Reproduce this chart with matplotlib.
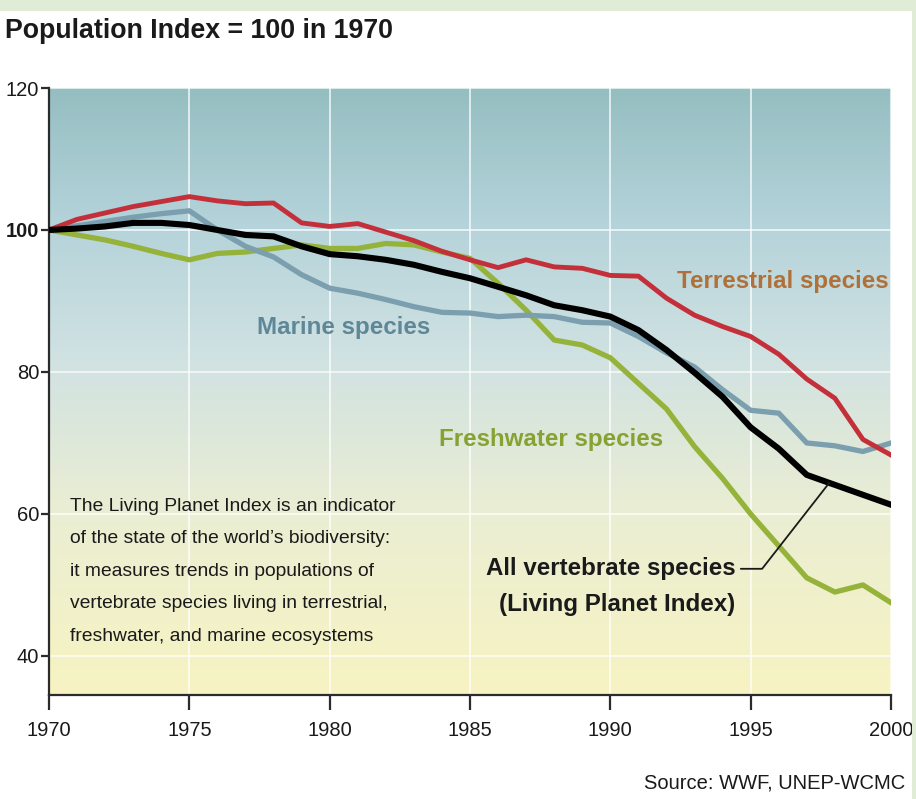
import numpy as np
import matplotlib
matplotlib.use("Agg")
import matplotlib.pyplot as plt
from matplotlib.colors import LinearSegmentedColormap

# --- data (index, 1970 = 100) ---------------------------------------------
years = list(range(1970, 2001))
terrestrial = [100, 101.5, 102.4, 103.3, 104, 104.7, 104.1, 103.7, 103.8, 101, 100.5,
               100.9, 99.7, 98.5, 97, 95.8, 94.7, 95.8, 94.8, 94.6, 93.6,
               93.5, 90.4, 88, 86.4, 85, 82.5, 79, 76.3, 70.5, 68.3]
marine = [100, 100.6, 101.2, 101.8, 102.3, 102.7, 100, 97.7, 96.2, 93.7, 91.8,
          91.1, 90.2, 89.2, 88.4, 88.3, 87.8, 88, 87.8, 87, 86.9,
          85, 82.7, 80.7, 77.5, 74.6, 74.2, 70, 69.6, 68.8, 70]
freshwater = [100, 99.3, 98.6, 97.7, 96.7, 95.8, 96.7, 96.9, 97.4, 97.9, 97.4,
              97.4, 98.1, 97.9, 96.9, 96, 92.5, 88.7, 84.5, 83.8, 82,
              78.4, 74.8, 69.5, 65, 60, 55.5, 51, 49, 50, 47.5]
all_species = [100, 100.2, 100.5, 101, 101, 100.7, 100, 99.3, 99.1, 97.7, 96.6,
               96.3, 95.8, 95.1, 94.1, 93.2, 92, 90.8, 89.4, 88.7, 87.8,
               85.9, 83.1, 79.9, 76.5, 72.2, 69.2, 65.5, 64.1, 62.7, 61.3]

x_ticks = [1970, 1975, 1980, 1985, 1990, 1995, 2000]
y_ticks = [40, 60, 80, 100, 120]

# --- style -------------------------------------------------------------
NARROW = ["Liberation Sans Narrow", "Liberation Sans", "DejaVu Sans"]
RED = "#c4303a"
BLUE = "#7b9fae"
GREEN = "#95b33a"
INK = "#1a1a1a"
FRAME = "#e1ecd6"

plt.rcParams["font.family"] = NARROW

fig = plt.figure(figsize=(9.16, 7.99), dpi=100)
fig.patch.set_facecolor("white")
ax = fig.add_axes([49 / 916, 1 - 695 / 799, 842 / 916, 607 / 799])

x0, x1, y0, y1 = 1970, 2000, 34.5, 120
ax.set_xlim(x0, x1)
ax.set_ylim(y0, y1)

# vertical gradient background: teal at top -> pale yellow at bottom
bg_cmap = LinearSegmentedColormap.from_list(
    "lpi_bg",
    [(0.0, "#95bec1"), (0.22, "#b4d3da"), (0.45, "#d1e2e2"),
     (0.7, "#eaeed3"), (1.0, "#f7f3c2")])
grad = np.linspace(0, 1, 256).reshape(-1, 1)
ax.imshow(grad, extent=[x0, x1, y0, y1], aspect="auto", cmap=bg_cmap,
          origin="upper", zorder=0, interpolation="bicubic")

ax.set_axisbelow(True)
ax.set_xticks(x_ticks)
ax.set_yticks(y_ticks)
ax.grid(True, color="white", linewidth=1.3, alpha=0.75, zorder=1)

for side in ("top", "right"):
    ax.spines[side].set_visible(False)
for side in ("left", "bottom"):
    ax.spines[side].set_color("#2b2b2b")
    ax.spines[side].set_linewidth(1.6)
ax.tick_params(axis="x", direction="out", length=11, width=1.6, color="#2b2b2b",
               labelsize=14.5, pad=8, labelcolor=INK)
ax.tick_params(axis="y", direction="out", length=6, width=1.6, color="#2b2b2b",
               labelsize=14.5, pad=1, labelcolor=INK)
for lbl in ax.get_yticklabels():
    if lbl.get_text() == "100":
        lbl.set_fontweight("bold")

# --- series ------------------------------------------------------------
ax.plot(years, freshwater, color=GREEN, lw=3.8, zorder=3, solid_joinstyle="round")
ax.plot(years, marine, color=BLUE, lw=3.8, zorder=4, solid_joinstyle="round")
ax.plot(years, terrestrial, color=RED, lw=3.5, zorder=4, solid_joinstyle="round")
ax.plot(years, all_species, color="black", lw=4.4, zorder=5, solid_joinstyle="round")

# --- labels ------------------------------------------------------------
ax.text(1999.9, 92.8, "Terrestrial species", color="#b0703a", fontsize=17.4,
        fontweight="bold", ha="right", va="center", zorder=6)
ax.text(1977.4, 86.3, "Marine species", color="#5e8797", fontsize=17.4,
        fontweight="bold", ha="left", va="center", zorder=6)
ax.text(1983.9, 70.5, "Freshwater species", color="#86a332", fontsize=17.4,
        fontweight="bold", ha="left", va="center", zorder=6)

tip_year = 1997.8
ax.annotate("All vertebrate species\n(Living Planet Index)",
            xy=(tip_year, np.interp(tip_year, years, all_species)),
            xytext=(1994.45, 49.8), textcoords="data",
            ha="right", va="center", fontsize=17.4, fontweight="bold",
            color=INK, linespacing=1.7, zorder=6,
            arrowprops=dict(arrowstyle="-", color=INK, lw=1.3,
                            relpos=(1.0, 0.8), shrinkA=2, shrinkB=0,
                            connectionstyle="angle,angleA=0,angleB=52,rad=0"))

ax.text(1970.75, 62.3,
        "The Living Planet Index is an indicator\n"
        "of the state of the world\u2019s biodiversity:\n"
        "it measures trends in populations of\n"
        "vertebrate species living in terrestrial,\n"
        "freshwater, and marine ecosystems",
        fontsize=13.9, color=INK, ha="left", va="top", linespacing=2.2, zorder=6)

# --- figure text and frame ----------------------------------------------
fig.text(5 / 916, 1 - 31 / 799, "Population Index = 100 in 1970", fontsize=19.3,
         fontweight="bold", color=INK, ha="left", va="center")
fig.text(905 / 916, 1 - 783 / 799, "Source: WWF, UNEP-WCMC", fontsize=14.5,
         color=INK, ha="right", va="center")

fig.add_artist(plt.Rectangle((0, 1 - 11 / 799), 1, 11 / 799, transform=fig.transFigure,
                             facecolor=FRAME, edgecolor="none"))
fig.add_artist(plt.Rectangle((912 / 916, 0), 4 / 916, 1, transform=fig.transFigure,
                             facecolor=FRAME, edgecolor="none"))

fig.savefig("out.png", dpi=100)
